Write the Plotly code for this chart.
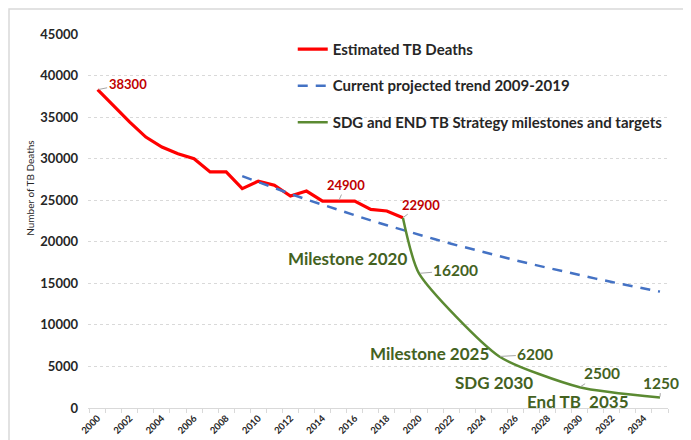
import plotly.graph_objects as go

# ---------------- data ----------------
est_years = list(range(2000, 2020))
est_deaths = [38300, 36300, 34400, 32600, 31400, 30600, 30000, 28400, 28400, 26400,
              27300, 26800, 25500, 26100, 24900, 24900, 24900, 23900, 23700, 22900]

trend_years = list(range(2009, 2036))
trend_deaths = [27900, 27170, 26460, 25770, 25090, 24440, 23800, 23170, 22570, 21980,
                21400, 20840, 20300, 19760, 19250, 18740, 18250, 17780, 17310, 16860,
                16420, 15990, 15570, 15160, 14770, 14380, 14000]

target_years = [2019, 2020, 2025, 2030, 2035]
target_deaths = [22900, 16200, 6200, 2500, 1250]
target_names = ["", "Milestone 2020", "Milestone 2025", "SDG 2030", "End TB  2035"]

x_tick_years = list(range(2000, 2035, 2))
y_ticks = list(range(0, 45001, 5000))
y_tick_text = [str(v) for v in y_ticks]

RED = "#FF0000"
RED_TXT = "#C00000"
BLUE = "#4472C4"
GREEN = "#5B8A32"
GREEN_TXT = "#44621F"
FONT = "Lato"

fig = go.Figure()
fig.add_trace(go.Scatter(x=est_years, y=est_deaths, mode="lines", name="Estimated TB Deaths",
                         line=dict(color=RED, width=3.2), legendgroup="a"))
fig.add_trace(go.Scatter(x=trend_years, y=trend_deaths, mode="lines",
                         name="Current projected trend 2009-2019",
                         line=dict(color=BLUE, width=2.5, dash="10px,8px"), legendgroup="b"))
fig.add_trace(go.Scatter(x=target_years, y=target_deaths, mode="lines",
                         name="SDG and END TB Strategy milestones and targets",
                         line=dict(color=GREEN, width=2.5, shape="spline", smoothing=0.6),
                         legendgroup="c"))

# value labels with leader lines
def value_label(x, y, color, ax, ay, size=13):
    fig.add_annotation(x=x, y=y, text=f"<b>{y}</b>", showarrow=True, arrowhead=0,
                       arrowwidth=1, arrowcolor="#A6A6A6", ax=ax, ay=ay, standoff=1,
                       xanchor="center", yanchor="middle",
                       font=dict(family=FONT, size=size, color=color))

value_label(est_years[0], est_deaths[0], RED_TXT, 30, -6)
value_label(est_years[15], est_deaths[15], RED_TXT, 7, -16)
value_label(est_years[19], est_deaths[19], RED_TXT, 18, -13)
value_label(target_years[1], target_deaths[1], GREEN_TXT, 37, -3, 15.5)
value_label(target_years[2], target_deaths[2], GREEN_TXT, 36, -2, 15.5)
value_label(target_years[3], target_deaths[3], GREEN_TXT, 22, -14, 15.5)
value_label(target_years[4], target_deaths[4], GREEN_TXT, 1, -15, 15.5)

# milestone names
shifts = [None, (-71, 15), (-70, 3), (-86, 5), (-82, -4)]
for i in range(1, len(target_years)):
    fig.add_annotation(x=target_years[i], y=target_deaths[i], text=f"<b>{target_names[i]}</b>",
                       showarrow=False, xshift=shifts[i][0], yshift=shifts[i][1],
                       font=dict(family=FONT, size=17, color=GREEN_TXT))

# y-axis title
fig.add_annotation(xref="paper", yref="paper", x=-0.113, y=0.59, text="Number of TB Deaths",
                   showarrow=False, textangle=-90,
                   font=dict(family=FONT, size=10, color="#262626"))

# outer frame
fig.add_shape(type="rect", xref="paper", yref="paper", x0=-0.1362, y0=-0.3, x1=1.2, y1=1.0668,
              line=dict(color="#D9D9D9", width=1.5), layer="below")

# the page body adds an 8px offset, so the figure is sized 8px smaller
fig.update_layout(
    width=683, height=432,
    margin=dict(l=80, r=23, t=26, b=32, autoexpand=False),
    paper_bgcolor="white", plot_bgcolor="white",
    font=dict(family=FONT, color="#262626"),
    showlegend=True,
    legend=dict(x=0.353, y=1.003, xanchor="left", yanchor="top",
                bgcolor="rgba(0,0,0,0)", traceorder="grouped", tracegroupgap=14,
                itemwidth=30,
                font=dict(family=FONT, size=15, color="#262626", weight="bold")),
    xaxis=dict(range=[1999.4, 2035.5], tickmode="array", tickvals=x_tick_years,
               ticktext=[str(v) for v in x_tick_years], tickangle=-45, automargin=False,
               tickfont=dict(family=FONT, size=9.5, color="#262626", weight="bold"),
               showgrid=False, zeroline=False, showline=True, linecolor="#D9D9D9",
               linewidth=1, ticks="",
               minor=dict(tick0=1999.5, dtick=1, ticks="outside", ticklen=4,
                          tickcolor="#D9D9D9", showgrid=False)),
    yaxis=dict(range=[0, 45000], tickmode="array", tickvals=y_ticks, ticktext=y_tick_text,
               automargin=False,
               tickfont=dict(family=FONT, size=13, color="#262626", weight="bold"),
               showgrid=True, gridcolor="#D9D9D9", griddash="3px,3px", gridwidth=1,
               zeroline=False, showline=False, ticks="", ticklabelstandoff=9),
)

fig.write_html("out.html")
